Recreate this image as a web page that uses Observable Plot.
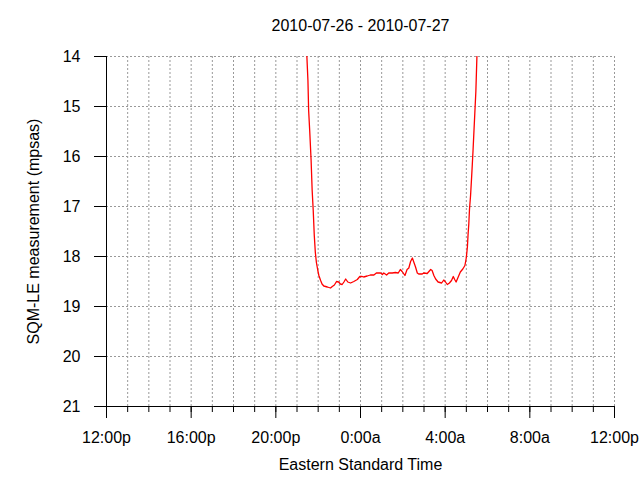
<!DOCTYPE html>
<html>
<head>
<meta charset="utf-8">
<script src="https://cdn.jsdelivr.net/npm/d3@7"></script>
<script src="https://cdn.jsdelivr.net/npm/@observablehq/plot@0.6"></script>
<style>
  html, body { margin: 0; padding: 0; background: #fff; }
</style>
</head>
<body>
<div id="chart"></div>
<script>
const title = "2010-07-26 - 2010-07-27";
const xLabel = "Eastern Standard Time";
const yLabel = "SQM-LE measurement (mpsas)";

const times = [
  "2010-07-26T21:28","2010-07-26T21:31","2010-07-26T21:33","2010-07-26T21:36","2010-07-26T21:40",
  "2010-07-26T21:43","2010-07-26T21:46","2010-07-26T21:49","2010-07-26T21:52","2010-07-26T21:55",
  "2010-07-26T21:59","2010-07-26T22:02","2010-07-26T22:07","2010-07-26T22:11","2010-07-26T22:16",
  "2010-07-26T22:26","2010-07-26T22:35","2010-07-26T22:40","2010-07-26T22:46","2010-07-26T22:52",
  "2010-07-26T22:58","2010-07-26T23:03","2010-07-26T23:08","2010-07-26T23:13","2010-07-26T23:18",
  "2010-07-26T23:24","2010-07-26T23:32","2010-07-26T23:41","2010-07-26T23:51","2010-07-26T23:58",
  "2010-07-27T00:05","2010-07-27T00:09","2010-07-27T00:19","2010-07-27T00:28","2010-07-27T00:38",
  "2010-07-27T00:45","2010-07-27T00:57","2010-07-27T01:02","2010-07-27T01:06","2010-07-27T01:14",
  "2010-07-27T01:20","2010-07-27T01:30","2010-07-27T01:39","2010-07-27T01:47","2010-07-27T01:53",
  "2010-07-27T01:58","2010-07-27T02:06","2010-07-27T02:12","2010-07-27T02:17","2010-07-27T02:22",
  "2010-07-27T02:27","2010-07-27T02:31","2010-07-27T02:36","2010-07-27T02:41","2010-07-27T02:45",
  "2010-07-27T02:55","2010-07-27T02:59","2010-07-27T03:09","2010-07-27T03:14","2010-07-27T03:19",
  "2010-07-27T03:23","2010-07-27T03:28","2010-07-27T03:33","2010-07-27T03:40","2010-07-27T03:50",
  "2010-07-27T03:56","2010-07-27T04:01","2010-07-27T04:06","2010-07-27T04:12","2010-07-27T04:18",
  "2010-07-27T04:23","2010-07-27T04:27","2010-07-27T04:31","2010-07-27T04:37","2010-07-27T04:43",
  "2010-07-27T04:50","2010-07-27T04:56","2010-07-27T05:00","2010-07-27T05:03","2010-07-27T05:05",
  "2010-07-27T05:07","2010-07-27T05:09","2010-07-27T05:12","2010-07-27T05:15","2010-07-27T05:17",
  "2010-07-27T05:19","2010-07-27T05:21","2010-07-27T05:24","2010-07-27T05:27","2010-07-27T05:30"
];
const sqm = [
  14.0, 14.48, 15.08, 15.48, 16.08, 16.68, 17.08, 17.58, 17.92, 18.12,
  18.28, 18.38, 18.48, 18.55, 18.59, 18.61, 18.63, 18.60, 18.57, 18.50,
  18.51, 18.55, 18.56, 18.51, 18.45, 18.51, 18.53, 18.50, 18.46, 18.40,
  18.40, 18.41, 18.39, 18.37, 18.37, 18.33, 18.33, 18.36, 18.33, 18.37,
  18.33, 18.33, 18.32, 18.33, 18.26, 18.30, 18.38, 18.26, 18.23, 18.10,
  18.03, 18.11, 18.21, 18.33, 18.35, 18.35, 18.33, 18.34, 18.30, 18.26,
  18.28, 18.38, 18.45, 18.51, 18.53, 18.47, 18.51, 18.56, 18.53, 18.48,
  18.40, 18.46, 18.51, 18.41, 18.31, 18.25, 18.18, 18.02, 17.81, 17.55,
  17.35, 17.05, 16.78, 16.41, 16.15, 15.88, 15.58, 15.14, 14.70, 14.0
];
const xStart = "2010-07-26T12:00";
const xEnd = "2010-07-27T12:00";
const yTicks = [14, 15, 16, 17, 18, 19, 20, 21];

const toDate = s => new Date(s + ":00Z");
const data = times.map((t, i) => ({t: toDate(t), v: sqm[i]}));
const x0 = toDate(xStart), x1 = toDate(xEnd);
const hourTicks = d3.utcHour.range(x0, new Date(+x1 + 1));
const majorTicks = d3.utcHour.every(4).range(x0, new Date(+x1 + 1));
const fmt = d => { const h = d.getUTCHours(); return `${h}:00${h < 12 ? "a" : "p"}`; };

const font = "Liberation Sans, Arial, sans-serif";
const fs = 16;
const gridStyle = {stroke: "#999", strokeOpacity: 1, strokeDasharray: "2,2", strokeWidth: 1};

const chart = Plot.plot({
  width: 640,
  height: 480,
  marginLeft: 106,
  marginRight: 26,
  marginTop: 56,
  marginBottom: 74,
  style: {fontFamily: font, fontSize: fs + "px", color: "#000", background: "#fff"},
  x: {type: "utc", domain: [x0, x1]},
  y: {domain: [14, 21], reverse: true},
  marks: [
    Plot.gridX(hourTicks, gridStyle),
    Plot.gridY(yTicks, gridStyle),
    Plot.line(data, {x: "t", y: "v", stroke: "red", strokeWidth: 1.3, clip: true}),
    Plot.ruleX([x0], {stroke: "#000", strokeWidth: 1}),
    Plot.ruleY([21], {stroke: "#000", strokeWidth: 1}),
    Plot.axisY({ticks: yTicks, tickSize: 12, tickPadding: 14, tickFormat: d => String(d), label: null, fontSize: fs, stroke: "#000", fill: "#000"}),
    Plot.axisX({ticks: hourTicks, tickSize: 6, tickFormat: () => "", label: null, stroke: "#000"}),
    Plot.axisX({ticks: majorTicks, tickSize: 12, tickPadding: 13, tickFormat: fmt, label: null, fontSize: fs, stroke: "#000", fill: "#000"}),
    Plot.text([title], {frameAnchor: "top", dy: -30.5, lineAnchor: "middle", textAnchor: "middle", fontSize: fs, fill: "#000"}),
    Plot.text([xLabel], {frameAnchor: "bottom", dy: 58.5, lineAnchor: "middle", textAnchor: "middle", fontSize: fs, fill: "#000"}),
    Plot.text([yLabel], {frameAnchor: "left", dx: -73, rotate: -90, lineAnchor: "middle", textAnchor: "middle", fontSize: fs, fill: "#000"})
  ]
});
document.getElementById("chart").appendChild(chart);
</script>
</body>
</html>
